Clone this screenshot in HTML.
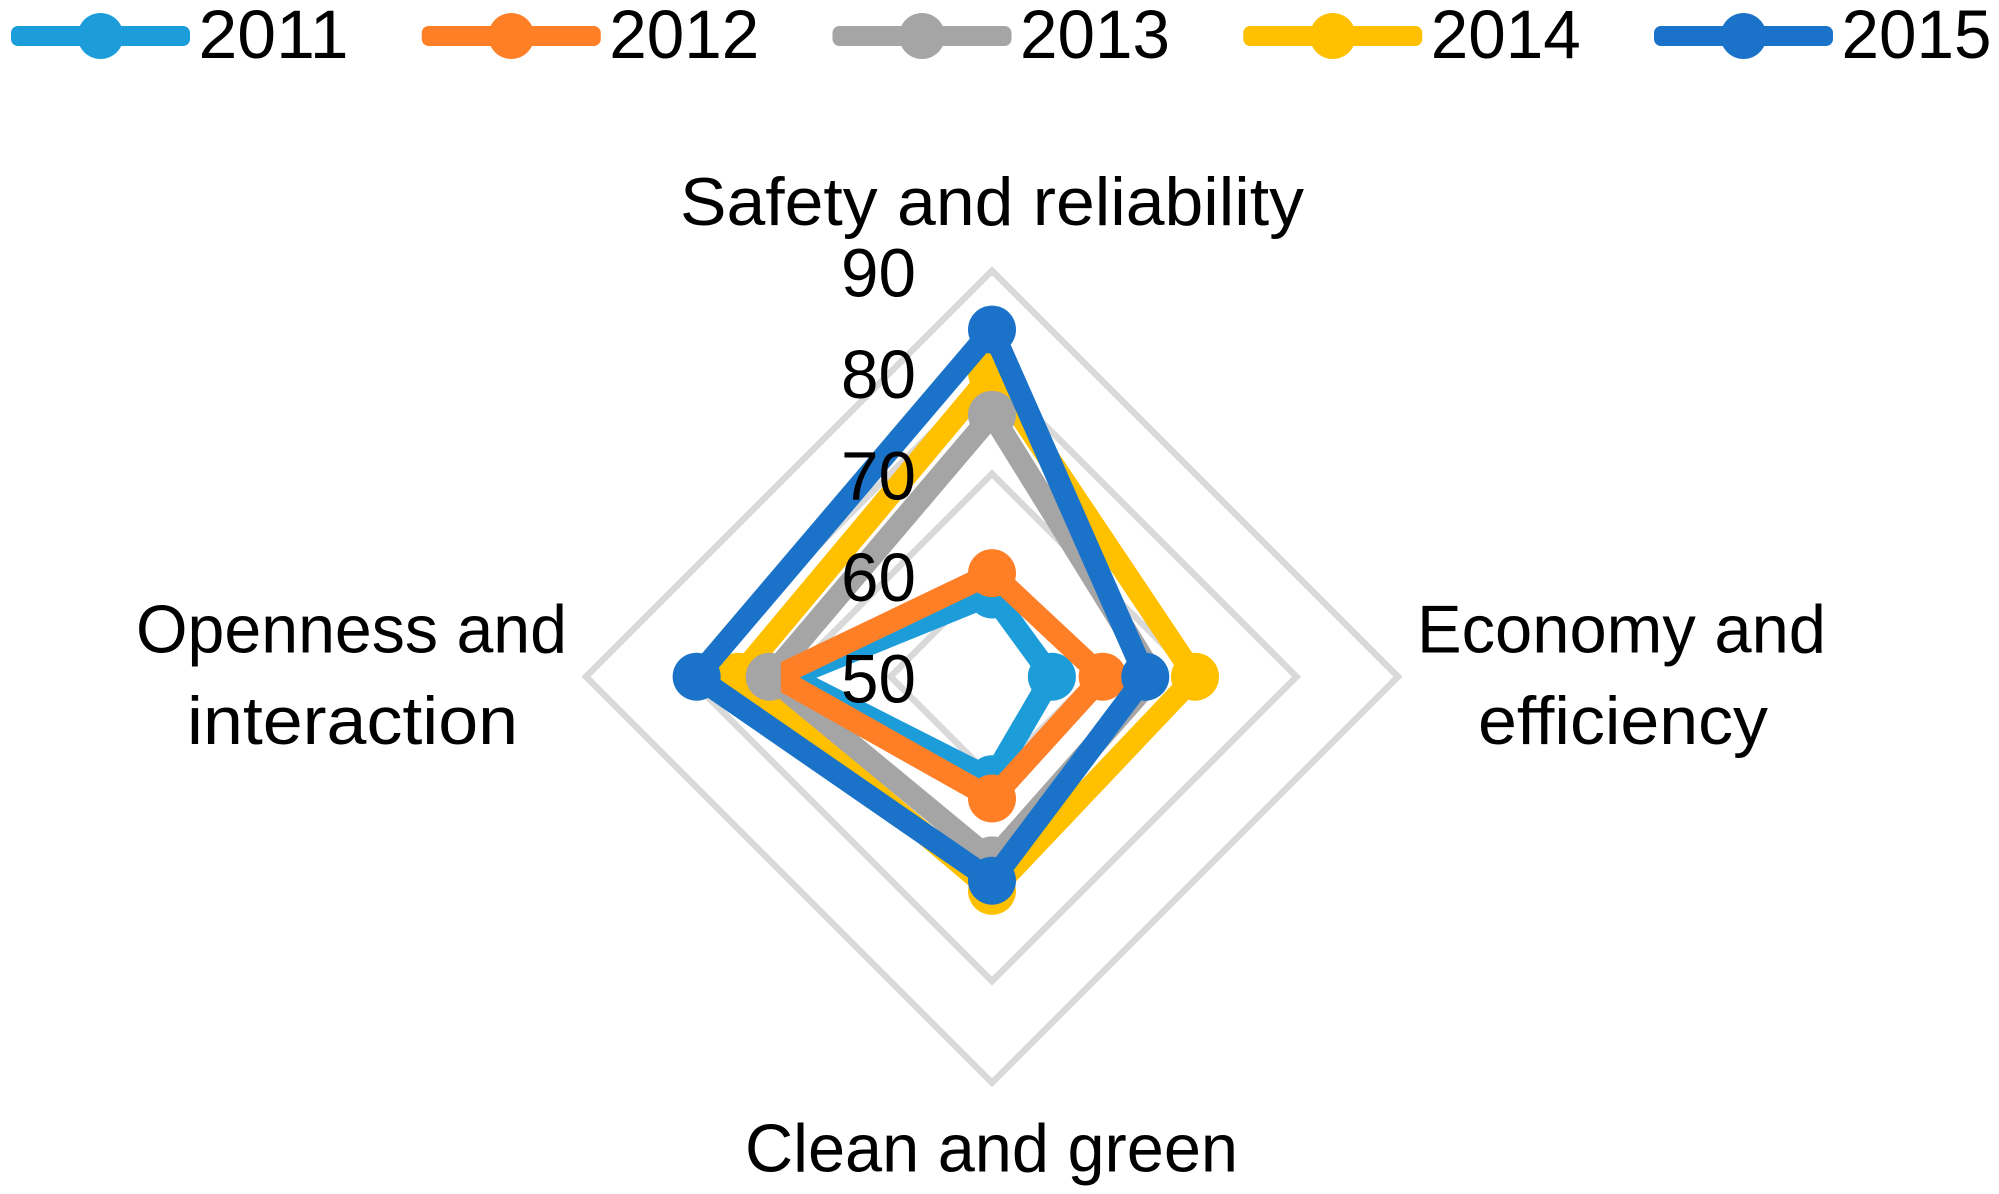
<!DOCTYPE html>
<html lang="en">
<head>
<meta charset="utf-8">
<title>Radar chart 2011-2015</title>
<style>
html,body{margin:0;padding:0;background:#fff;width:1999px;height:1194px;overflow:hidden}
svg{display:block}
text{font-family:"Liberation Sans",sans-serif;fill:#000}
</style>
</head>
<body>
<svg id="chart" xmlns="http://www.w3.org/2000/svg" width="1999" height="1194" viewBox="0 0 1999 1194">
<rect width="1999" height="1194" fill="#ffffff"/>
</svg>
<script>
// order of categories: top, right, bottom, left
const categories = ["Safety and reliability", "Economy and efficiency", "Clean and green", "Openness and interaction"];
const years = ["2011", "2012", "2013", "2014", "2015"];
const values2011 = [58.1, 55.9, 60.1, 69.9];
const values2012 = [60.2, 60.9, 62.0, 71.3];
const values2013 = [75.8, 66.0, 68.1, 71.9];
const values2014 = [79.9, 70.0, 71.1, 75.0];
const values2015 = [84.2, 65.1, 70.1, 79.1];
const tickLabels = [50, 60, 70, 80, 90];

const svg = document.getElementById('chart');
const NS = 'http://www.w3.org/2000/svg';
const cx = 992, cy = 676.7, unitsPerValue = 10.15, axisMin = 50;
const dirs = [[0, -1], [1, 0], [0, 1], [-1, 0]];
const markerR = 24, lineW = 22;

function radius(v) { return (v - axisMin) * unitsPerValue; }
function point(i, v) { const r = radius(v); return [cx + dirs[i][0] * r, cy + dirs[i][1] * r]; }
function make(tag, attrs, parent) {
  const e = document.createElementNS(NS, tag);
  for (const k in attrs) e.setAttribute(k, attrs[k]);
  (parent || svg).appendChild(e);
  return e;
}
const defs = make('defs', {});

// rings
const rings = make('g', {});


tickLabels.slice(1).forEach(function (t) {
  const pts = [0, 1, 2, 3].map(function (i) { return point(i, t).join(','); }).join(' ');
  const ring = make('polygon', { points: pts, fill: 'none', stroke: '#d9d9d9', 'stroke-width': 6.5, 'stroke-linejoin': 'miter' }, rings);
  
  
});

// series painted in the reference's layering
const seriesList = [
  { year: years[0], color: '#1c9cd8', vals: values2011, trim: [null, null, null, 0], cut: null },
  { year: years[3], color: '#ffc000', vals: values2014, trim: [null, null, null, 6], cut: null },
  { year: years[2], color: '#a5a5a5', vals: values2013, trim: [18, 0, null, 18], cut: null },
  { year: years[1], color: '#ff7f27', vals: values2012, trim: [null, null, null, 0], cut: 5 },
  { year: years[4], color: '#1a73c8', vals: values2015, trim: [null, null, null, null], cut: null }
];

seriesList.forEach(function (s) {
  const g = make('g', {});
  
  
  const pts = s.vals.map(function (v, i) { return point(i, v); });
  const line = make('polygon', {
    points: pts.map(function (p) { return p.join(','); }).join(' '),
    fill: 'none', stroke: s.color, 'stroke-width': lineW, 'stroke-linejoin': 'miter', 'stroke-miterlimit': 10
  }, g);
  
  
  if (s.cut !== null) {
    const cp = make('clipPath', { id: 'cut-' + s.year }, defs);
    make('rect', { x: pts[3][0] + s.cut, y: 0, width: 1999, height: 1194 }, cp);
    line.setAttribute('clip-path', 'url(#cut-' + s.year + ')');
  }
  pts.forEach(function (p, i) {
    const t = s.trim[i];
    if (t === 0) return;
    const c = make('circle', { cx: p[0], cy: p[1], r: markerR, fill: s.color }, g);
    
    
    if (t !== null) {
      const id = 'clip-' + s.year + '-' + i;
      const cp = make('clipPath', { id: id }, defs);
      const half = 40;
      const rcx = p[0] + dirs[i][0] * (half - t), rcy = p[1] + dirs[i][1] * (half - t);
      make('rect', { x: rcx - half, y: rcy - half, width: half * 2, height: half * 2 }, cp);
      c.setAttribute('clip-path', 'url(#' + id + ')');
    }
  });
});

// tick labels
const tickBaseOffset = 26;
tickLabels.forEach(function (t) {
  const el = make('text', { x: 841, y: cy - radius(t) + tickBaseOffset, 'font-size': 69, textLength: 75, lengthAdjust: 'spacingAndGlyphs' });
  el.textContent = String(t);
  
  
});

// category labels
const labelLines = [
  { text: "Safety and reliability", x: 680, y: 225, w: 624 },
  { text: "Economy and", x: 1417, y: 652.7, w: 409 },
  { text: "efficiency", x: 1478, y: 744, w: 290 },
  { text: "Clean and green", x: 745, y: 1171.7, w: 493 },
  { text: "Openness and", x: 136, y: 652.7, w: 431 },
  { text: "interaction", x: 187, y: 744, w: 331 }
];
labelLines.forEach(function (l) {
  const el = make('text', { x: l.x, y: l.y, 'font-size': 68, textLength: l.w, lengthAdjust: 'spacingAndGlyphs' });
  el.textContent = l.text;
  
  
});

// legend
const legendColors = ['#1c9cd8', '#ff7f27', '#a5a5a5', '#ffc000', '#1a73c8'];
years.forEach(function (y, i) {
  const x0 = 11 + i * 410.75;
  const g = make('g', {});
  
  
  const ln = make('rect', { x: x0, y: 26, width: 179, height: 20, rx: 7, ry: 7, fill: legendColors[i] }, g);
  
  
  const m = make('circle', { cx: x0 + 89.5, cy: 36, r: markerR - 1, fill: legendColors[i] }, g);
  
  
  const tx = make('text', { x: x0 + 187.5, y: 58, 'font-size': 69, textLength: 150, lengthAdjust: 'spacingAndGlyphs' }, g);
  tx.textContent = y;
  
  
});
</script>
</body>
</html>
